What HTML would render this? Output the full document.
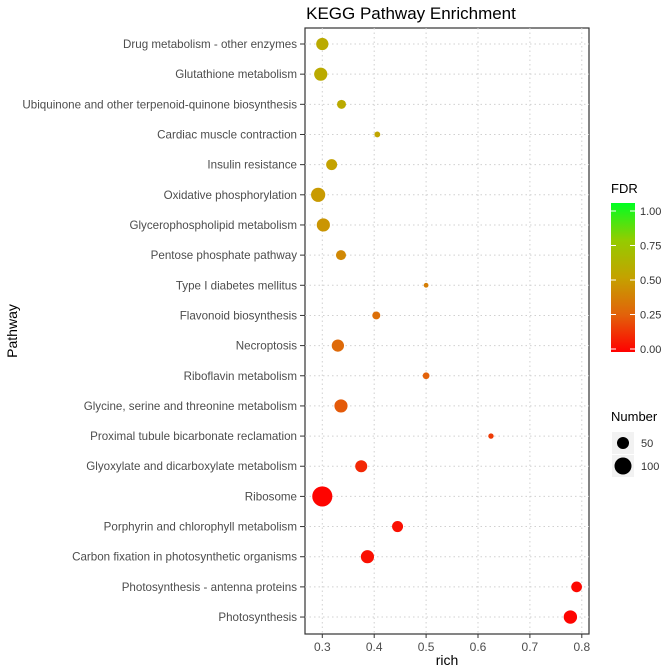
<!DOCTYPE html>
<html><head><meta charset="utf-8"><style>
body{margin:0;background:#fff;}
svg{display:block;font-family:"Liberation Sans",sans-serif;}
</style></head><body>
<svg id="chart" width="666" height="671" viewBox="0 0 666 671">
<defs><linearGradient id="fdrgrad" x1="0" y1="1" x2="0" y2="0">
<stop offset="0" stop-color="#ff0000"/><stop offset="0.25" stop-color="#e2620a"/><stop offset="0.5" stop-color="#c4a200"/><stop offset="0.75" stop-color="#94cc00"/><stop offset="1" stop-color="#00ff22"/>
</linearGradient></defs>
<text x="411" y="19" font-size="17" fill="#000" text-anchor="middle">KEGG Pathway Enrichment</text>
<rect x="305" y="28" width="284" height="606" fill="#fff" stroke="#333" stroke-width="1.2"/>
<g id="grid"></g><g id="yaxis"></g><g id="xaxis"></g><g id="points"></g>
<text x="447" y="665" font-size="14" text-anchor="middle" fill="#000">rich</text>
<text transform="translate(17,331) rotate(-90)" font-size="14" text-anchor="middle" fill="#000">Pathway</text>
<g>
<text x="611" y="193" font-size="13" fill="#000">FDR</text>
<rect x="611" y="203" width="24" height="149" fill="url(#fdrgrad)"/>
<g id="cbticks"></g>
</g>
<g>
<text x="611" y="421" font-size="13" fill="#000">Number</text>
<g id="sizelegend"></g>
</g>
</svg>
<script>
const pathways=["Drug metabolism - other enzymes","Glutathione metabolism","Ubiquinone and other terpenoid-quinone biosynthesis","Cardiac muscle contraction","Insulin resistance","Oxidative phosphorylation","Glycerophospholipid metabolism","Pentose phosphate pathway","Type I diabetes mellitus","Flavonoid biosynthesis","Necroptosis","Riboflavin metabolism","Glycine, serine and threonine metabolism","Proximal tubule bicarbonate reclamation","Glyoxylate and dicarboxylate metabolism","Ribosome","Porphyrin and chlorophyll metabolism","Carbon fixation in photosynthetic organisms","Photosynthesis - antenna proteins","Photosynthesis"];
const richValues=[0.30,0.297,0.337,0.406,0.318,0.292,0.302,0.336,0.50,0.404,0.33,0.50,0.336,0.625,0.375,0.30,0.445,0.387,0.79,0.778];
const numberValues=[52,60,28,12,42,70,60,35,8,22,52,16,60,10,50,140,42,60,40,62];
const fdrValues=[0.55,0.55,0.55,0.52,0.5,0.47,0.45,0.4,0.36,0.3,0.28,0.25,0.23,0.15,0.1,0.01,0.04,0.04,0.02,0.01];
const xTicks=[0.3,0.4,0.5,0.6,0.7,0.8];
const fdrTicks=[0,0.25,0.5,0.75,1];
const sizeLegendValues=[50,100];
const NS="http://www.w3.org/2000/svg";
function mk(parent,tag,attrs){const e=document.createElementNS(NS,tag);for(const k in attrs)e.setAttribute(k,attrs[k]);document.getElementById(parent).appendChild(e);return e;}
const xScale=v=>322.3+(v-0.3)*519;
const yScale=i=>44+i*30.16;
const rScale=n=>0.85*Math.sqrt(n);
const cbScale=v=>349-v*138;
function lerp(a,b,t){return Math.round(a+(b-a)*t);}
const stops=[[0,[255,0,0]],[0.25,[226,98,10]],[0.5,[196,162,0]],[0.75,[148,204,0]],[1,[0,255,34]]];
function fdrColor(v){for(let i=0;i<stops.length-1;i++){const a=stops[i],b=stops[i+1];if(v<=b[0]){const t=(v-a[0])/(b[0]-a[0]);return `rgb(${lerp(a[1][0],b[1][0],t)},${lerp(a[1][1],b[1][1],t)},${lerp(a[1][2],b[1][2],t)})`;}}return "rgb(0,255,34)";}
xTicks.forEach(t=>{
 const l=mk("grid","line",{x1:xScale(t),x2:xScale(t),y1:28,y2:634,stroke:"#d0d0d0","stroke-dasharray":"1.5,3"});
 
 
 const tk=mk("xaxis","line",{x1:xScale(t),x2:xScale(t),y1:634,y2:638,stroke:"#333"});
 
 
 const tx=mk("xaxis","text",{x:xScale(t),y:651,"font-size":12,fill:"#4d4d4d","text-anchor":"middle"});
 tx.textContent=t.toFixed(1);
 
 
});
pathways.forEach((p,i)=>{
 const y=yScale(i);
 const g=mk("grid","line",{x1:305,x2:589,y1:y,y2:y,stroke:"#d0d0d0","stroke-dasharray":"1.5,3"});
 
 
 const tk=mk("yaxis","line",{x1:300,x2:305,y1:y,y2:y,stroke:"#333"});
 
 
 const tx=mk("yaxis","text",{x:297,y:y+4,"font-size":11.6,fill:"#4d4d4d","text-anchor":"end"});
 tx.textContent=p;
 
 
 const c=mk("points","circle",{cx:xScale(richValues[i]),cy:y,r:rScale(numberValues[i]),fill:fdrColor(fdrValues[i])});
 
 
});
fdrTicks.forEach(t=>{
 const y=cbScale(t);
 const a=mk("cbticks","line",{x1:611,x2:616,y1:y,y2:y,stroke:"#fff"});
 
 
 const b=mk("cbticks","line",{x1:630,x2:635,y1:y,y2:y,stroke:"#fff"});
 
 
 const tx=mk("cbticks","text",{x:640,y:y+4,"font-size":11,fill:"#333"});
 tx.textContent=t.toFixed(2);
 
 
});
sizeLegendValues.forEach((n,i)=>{
 const y=443+i*23;
 const bg=mk("sizelegend","rect",{x:612,y:y-11,width:22,height:22,fill:"#f2f2f2"});
 
 
 const c=mk("sizelegend","circle",{cx:623,cy:y,r:rScale(n),fill:"#000"});
 
 
 const tx=mk("sizelegend","text",{x:641,y:y+4,"font-size":11,fill:"#333"});
 tx.textContent=n;
 
 
});
</script>
</body></html>
